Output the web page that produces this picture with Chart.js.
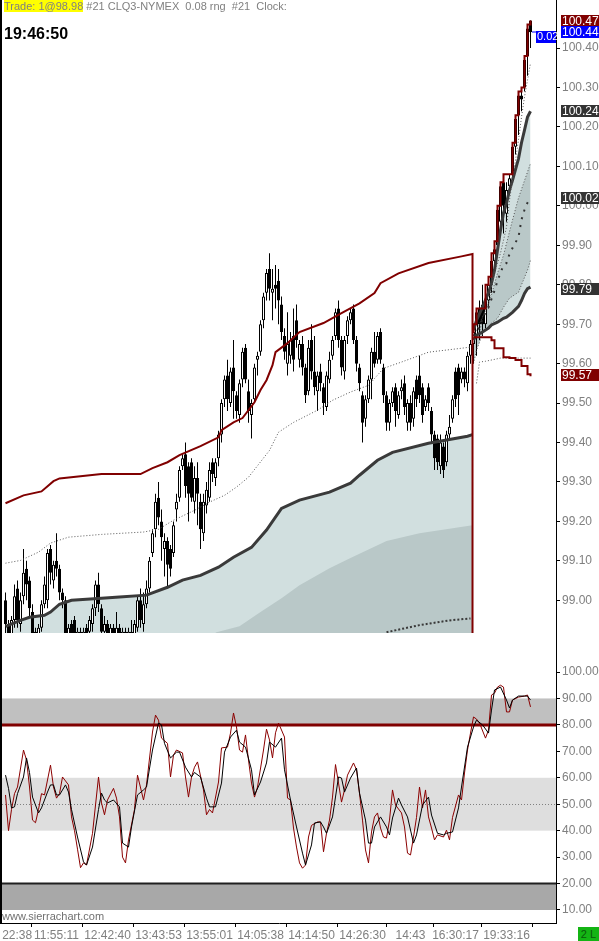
<!DOCTYPE html>
<html>
<head>
<meta charset="utf-8">
<script src="https://cdn.jsdelivr.net/npm/chart.js@4.4.0/dist/chart.umd.min.js"></script>
<style>
html,body{margin:0;padding:0;background:#fff;overflow:hidden;}
#wrap{position:relative;width:599px;height:941px;}
#c{position:absolute;left:0;top:0;}
.hdr{position:absolute;left:4px;top:0;font:11px "Liberation Sans",Arial,sans-serif;color:#808080;white-space:pre;line-height:13px;}
.hdr .trade{background:#ffff00;}
.clock{position:absolute;left:4px;top:25px;font:bold 16px "Liberation Sans",Arial,sans-serif;color:#000;}
.wm{position:absolute;left:2px;top:910px;font:11px "Liberation Sans",Arial,sans-serif;color:#707070;}
.mode{position:absolute;left:578px;top:927px;width:21px;height:14px;background:#14b414;color:#0a5a0a;font:11px "Liberation Sans",Arial,sans-serif;text-align:center;line-height:14px;}
</style>
</head>
<body>
<div id="wrap">
<canvas id="c" width="599" height="941"></canvas>
<div class="hdr"><span class="trade">Trade: 1@98.98</span> #21 CLQ3-NYMEX  0.08 rng  #21  Clock:</div>
<div class="clock">19:46:50</div>
<div class="wm">www.sierrachart.com</div>
<div class="mode">2 L</div>
</div>
<script>
// ---- bars (one per bar index) ----
const barOpen = [
99.00,98.94,98.91,98.95,99.03,98.94,99.01,99.08,99.05,98.97,98.92,98.89,98.93,98.99,99.00,99.13,99.05,99.10,99.08,99.02,
99.00,98.90,98.94,98.95,98.90,98.92,98.90,98.93,98.92,98.94,98.98,99.04,98.98,98.92,98.94,98.91,98.93,98.91,98.93,98.90,
98.92,98.90,98.92,98.91,98.93,99.00,98.94,98.99,99.03,99.12,99.18,99.26,99.20,99.13,99.15,99.13,99.12,99.23,99.26,99.34,
99.37,99.34,99.35,99.25,99.31,99.25,99.17,99.24,99.26,99.35,99.31,99.36,99.42,99.51,99.57,99.50,99.59,99.52,99.47,99.56,
99.64,99.53,99.47,99.51,99.61,99.63,99.71,99.78,99.84,99.78,99.80,99.81,99.75,99.67,99.60,99.62,99.67,99.71,99.61,99.65,
99.59,99.53,99.66,99.58,99.53,99.58,99.54,99.49,99.56,99.62,99.67,99.74,99.66,99.58,99.67,99.71,99.74,99.66,99.59,99.52,
99.46,99.51,99.56,99.63,99.61,99.68,99.59,99.52,99.45,99.50,99.54,99.47,99.53,99.55,99.45,99.50,99.46,99.56,99.57,99.54,
99.49,99.54,99.48,99.42,99.41,99.34,99.39,99.35,99.42,99.46,99.58,99.59,99.56,99.58,99.55,99.62,99.65,99.67,99.74,99.75,
99.70,99.76,99.80,99.86,99.90,99.96,100.06,99.98,100.05,100.08,100.15,100.23,100.28,100.30,100.38,100.47];
const barHigh = [
99.02,98.95,98.96,99.04,99.05,99.02,99.13,99.10,99.06,98.99,98.93,98.94,99.00,99.06,99.13,99.14,99.10,99.17,99.09,99.03,
99.01,98.94,98.95,98.96,98.93,98.93,98.93,98.94,98.96,98.99,99.05,99.07,98.99,98.96,98.95,98.94,98.94,98.97,98.94,98.93,
98.93,98.93,98.95,98.95,99.01,99.03,99.02,99.05,99.11,99.18,99.27,99.30,99.23,99.17,99.16,99.14,99.20,99.27,99.34,99.37,
99.40,99.35,99.36,99.34,99.35,99.27,99.27,99.30,99.35,99.36,99.36,99.43,99.51,99.57,99.61,99.59,99.66,99.53,99.56,99.64,
99.65,99.56,99.51,99.60,99.63,99.71,99.78,99.84,99.88,99.84,99.85,99.84,99.77,99.69,99.73,99.68,99.74,99.75,99.66,99.67,
99.60,99.66,99.70,99.67,99.58,99.60,99.55,99.58,99.63,99.67,99.74,99.76,99.67,99.67,99.72,99.74,99.75,99.67,99.60,99.53,
99.52,99.57,99.64,99.68,99.68,99.69,99.60,99.53,99.51,99.54,99.55,99.53,99.56,99.57,99.51,99.52,99.54,99.57,99.62,99.55,
99.52,99.55,99.49,99.43,99.42,99.42,99.40,99.43,99.47,99.52,99.59,99.60,99.59,99.59,99.63,99.66,99.70,99.74,99.76,99.80,
99.77,99.82,99.88,99.91,100.00,100.06,100.08,100.06,100.08,100.16,100.23,100.29,100.30,100.38,100.46,100.47];
const barLow = [
98.91,98.89,98.89,98.93,98.93,98.92,98.99,99.00,98.96,98.88,98.87,98.88,98.92,98.98,98.98,99.04,99.03,99.06,99.00,98.98,
98.88,98.88,98.89,98.88,98.88,98.88,98.88,98.89,98.90,98.92,98.96,98.97,98.89,98.89,98.88,98.88,98.88,98.89,98.88,98.88,
98.88,98.88,98.88,98.89,98.92,98.93,98.92,98.98,99.02,99.11,99.16,99.19,99.10,99.06,99.03,99.06,99.11,99.20,99.25,99.33,
99.26,99.20,99.25,99.22,99.19,99.13,99.15,99.22,99.25,99.30,99.29,99.34,99.40,99.49,99.48,99.49,99.46,99.46,99.45,99.54,
99.55,99.45,99.41,99.50,99.57,99.62,99.69,99.76,99.76,99.71,99.74,99.70,99.66,99.61,99.57,99.60,99.58,99.64,99.59,99.57,
99.50,99.52,99.56,99.52,99.48,99.53,99.47,99.48,99.55,99.61,99.66,99.64,99.57,99.56,99.65,99.70,99.65,99.58,99.53,99.40,
99.44,99.50,99.51,99.59,99.60,99.60,99.50,99.43,99.43,99.49,99.44,99.46,99.51,99.47,99.43,99.43,99.44,99.49,99.50,99.45,
99.48,99.48,99.40,99.33,99.33,99.32,99.31,99.34,99.41,99.45,99.49,99.47,99.55,99.54,99.53,99.60,99.60,99.62,99.66,99.67,
99.69,99.74,99.78,99.84,99.88,99.94,99.93,99.96,100.03,100.07,100.13,100.18,100.24,100.29,100.33,100.40];
const barClose = [
98.94,98.91,98.95,99.01,98.95,99.00,99.07,99.04,98.98,98.91,98.89,98.93,98.99,99.04,99.12,99.07,99.09,99.08,99.02,99.00,
98.91,98.93,98.91,98.91,98.92,98.90,98.92,98.91,98.95,98.98,99.04,98.99,98.92,98.94,98.91,98.93,98.90,98.93,98.90,98.92,
98.90,98.92,98.90,98.94,99.00,98.95,98.99,99.03,99.10,99.17,99.25,99.21,99.16,99.15,99.09,99.08,99.19,99.25,99.33,99.36,
99.29,99.27,99.26,99.31,99.27,99.18,99.25,99.28,99.33,99.32,99.35,99.42,99.50,99.56,99.51,99.58,99.53,99.48,99.55,99.63,
99.56,99.48,99.50,99.59,99.62,99.70,99.77,99.83,99.79,99.79,99.79,99.76,99.68,99.63,99.65,99.66,99.61,99.66,99.65,99.59,
99.52,99.64,99.58,99.54,99.57,99.55,99.50,99.57,99.61,99.66,99.73,99.66,99.59,99.66,99.71,99.73,99.66,99.60,99.55,99.45,
99.51,99.56,99.63,99.60,99.67,99.61,99.52,99.45,99.50,99.53,99.48,99.52,99.54,99.49,99.50,99.45,99.53,99.51,99.52,99.47,
99.51,99.50,99.42,99.36,99.35,99.40,99.33,99.42,99.44,99.51,99.51,99.52,99.58,99.56,99.62,99.65,99.68,99.73,99.70,99.70,
99.76,99.80,99.86,99.89,99.99,100.05,100.00,100.04,100.07,100.15,100.22,100.28,100.27,100.37,100.45,100.44];

// ---- studies, [bar, value] ----
const vwapLeft = [[0,98.934],[5,98.949],[8,98.957],[13,98.962],[15,98.97],[18,98.99],[22,99.0],[32,99.005],[38,99.008],[47,99.013],[54,99.033],[59,99.051],[65,99.063],[71,99.084],[76,99.109],[82,99.134],[87,99.178],[92,99.233],[98,99.254],[108,99.274],[115,99.297],[118,99.317],[124,99.355],[129,99.375],[141,99.398],[154,99.416],[155.67,99.42]];
const lowBandLeft = [[70,98.918],[78,98.934],[85,98.97],[92,99.005],[98,99.038],[108,99.081],[115,99.107],[127,99.15],[138,99.17],[155.67,99.19]];
const lowBand2Left = [[127,98.919],[138,98.937],[148,98.949],[155,98.954]];
const upBandLeft = [[0,99.094],[5,99.101],[11,99.122],[15,99.145],[21,99.16],[32,99.167],[46,99.173],[51,99.18],[56,99.203],[63,99.228],[68,99.249],[73,99.266],[77,99.287],[81,99.312],[88,99.38],[91,99.426],[96,99.451],[104,99.482],[109,99.507],[115,99.528],[121,99.545],[126,99.588],[132,99.604],[141,99.629],[152,99.639],[155,99.642]];
const redLeft = [[0,99.246],[6,99.266],[12,99.276],[16,99.302],[18,99.309],[32,99.32],[45,99.32],[49,99.335],[54,99.35],[58,99.368],[65,99.391],[71,99.413],[72,99.431],[76,99.451],[79,99.462],[83,99.502],[85,99.533],[87,99.558],[89,99.596],[90,99.629],[94,99.652],[98,99.68],[106,99.703],[112,99.728],[118,99.753],[123,99.779],[125,99.804],[131,99.829],[141,99.855],[152,99.872],[155.67,99.878],[155.67,98.90]];
const vwapUpRight = [[156,99.685],[157,99.71],[159,99.743],[161,99.78],[162,99.804],[163,99.837],[164,99.888],[165,99.938],[166,99.982],[167,100.007],[168,100.04],[169,100.065],[171,100.12],[172,100.16],[173,100.192],[174,100.225],[175,100.24]];
const vwapLowRight = [[156,99.66],[157,99.672],[159,99.68],[161,99.69],[162,99.698],[164,99.705],[166,99.715],[167,99.718],[169,99.73],[171,99.745],[172,99.76],[173,99.778],[174,99.79],[175,99.794]];
const bandUpRight = [[156,99.67],[157,99.685],[159,99.718],[161,99.75],[162,99.775],[164,99.829],[166,99.875],[167,99.905],[169,99.964],[171,100.02],[172,100.042],[174,100.086],[175,100.108]];
const bandLowRight = [[156,99.60],[157,99.634],[158,99.654],[159,99.677],[162,99.703],[164,99.715],[166,99.743],[168,99.766],[171,99.781],[172,99.80],[174,99.837],[175,99.862]];
const midRight = [[156,99.67],[158,99.692],[159,99.715],[161,99.743],[163,99.785],[164,99.81],[166,99.85],[167,99.855],[168,99.878],[169,99.893],[171,99.921],[172,99.965],[173,99.99],[174,100.008],[175,100.02]];
const topBandRight = [[158,99.677],[159,99.718],[161,99.753],[162,99.794],[163,99.829],[165,99.88],[167,99.946],[168,100.015],[169,100.065],[170,100.116],[171,100.167],[172,100.225],[173,100.276],[174,100.319],[175,100.362]];
const floorRight = [[157,99.55],[158,99.604],[160,99.606],[165,99.614],[175,99.614]];
const highRight = [[155.67,99.68],[156,99.70],[157,99.74],[160,99.80],[161,99.82],[162,99.88],[163,99.91],[164,100.00],[165,100.06],[166,100.08],[169,100.16],[170,100.23],[171,100.29],[172,100.30],[173,100.38],[174,100.46],[175,100.47]];
const lowRight = [[156,99.667],[162,99.659],[163,99.639],[166,99.616],[168,99.614],[170,99.609],[172,99.594],[174,99.573],[175,99.568]];

// ---- oscillator, [bar, value] ----
const oscFast = [[0,53.5],[1,40],[2,48],[3,54],[4,56.5],[6,70.5],[7,66.7],[8,56.5],[9,44],[10,43],[11,48],[12,54],[13,53.5],[15,64.8],[16,56.5],[17,52.3],[18,54],[19,60.3],[21,57.3],[22,45.2],[23,40],[24,33],[25,26],[26,27.8],[27,27],[29,39],[31,60.3],[32,50.5],[33,46],[34,51.6],[36,56],[37,52.3],[38,45.2],[39,30],[40,27.8],[41,36.5],[43,48],[44,61],[46,51.6],[47,57.3],[49,77.3],[50,83.7],[51,81.8],[52,75],[54,73],[55,60.3],[56,68.6],[57,70.5],[59,69.4],[60,60.3],[61,52.7],[62,60.3],[63,64],[64,66],[66,55.4],[67,46],[68,48],[69,46.7],[71,58.4],[72,71.3],[74,71.6],[75,76.9],[76,84.5],[77,79.2],[78,70.5],[79,69.7],[80,76.2],[81,66.7],[82,58],[83,52.7],[84,56.5],[86,70.5],[87,78.4],[88,74.3],[89,67.5],[90,77],[91,80.7],[93,75.4],[94,52.3],[95,51.6],[96,41],[97,33.8],[98,27.8],[99,25.8],[100,27],[101,37.6],[102,42],[104,43.3],[105,43.3],[106,32],[107,39],[108,44],[109,52.7],[110,65],[111,58],[112,50.8],[113,55.4],[114,61],[116,65.6],[117,63],[118,54.2],[119,44],[120,32.7],[121,27.8],[122,39.5],[123,45.2],[124,46.7],[125,41],[126,37.6],[127,37.2],[128,44],[129,55.4],[130,49.7],[132,46.7],[133,41.4],[134,31.5],[135,30.8],[136,37.6],[137,45],[138,56.5],[139,48.6],[140,55.4],[141,45.2],[142,41],[143,36.5],[144,38.4],[146,37.6],[147,40.2],[148,36.5],[149,45],[151,53.5],[152,51.6],[153,61.8],[154,70.5],[155,76.9],[156,83],[157,82.2],[158,80.7],[160,75],[161,78],[162,91.3],[163,92],[164,94.3],[165,95],[166,94.3],[167,84.9],[168,84.9],[169,89.4],[171,90.5],[173,90.9],[174,91.3],[175,86.8]];
const oscSlow = [[0,61],[1,56],[2,48.6],[3,49],[4,54],[6,60.3],[7,67.5],[8,62],[9,52.7],[11,46.7],[12,48.6],[14,54.6],[15,57.3],[16,57.3],[17,53.5],[18,53.5],[20,57.3],[21,54.6],[22,48],[24,37.6],[26,28.2],[27,27],[29,33.8],[31,48],[32,54.2],[33,51.6],[34,50.5],[36,51.6],[38,49],[39,35.3],[41,33.8],[42,41.4],[44,53.5],[46,55.4],[47,56.5],[49,70.5],[51,80.7],[52,80],[53,73],[55,67.5],[57,69.7],[58,69.7],[60,64],[62,60.3],[63,62],[65,60.3],[67,52.3],[68,49],[70,49],[72,58],[73,69.7],[75,75.4],[77,78],[78,73.5],[80,71.6],[82,63],[83,53.5],[85,58.4],[87,65.6],[88,73.5],[90,71.6],[92,75],[93,63],[95,51.6],[97,41.4],[99,31.5],[100,27],[102,34.6],[103,42.9],[105,43.3],[106,41.4],[107,39],[109,45.2],[111,60.3],[112,59.9],[113,54.6],[115,59.9],[117,63.7],[118,54.2],[120,44],[121,35.3],[122,35.3],[123,41.4],[125,45.2],[127,41.4],[128,38.4],[129,44.8],[131,52.3],[132,49.7],[134,45.2],[136,35.3],[137,38.4],[139,49.7],[141,52.7],[142,45.9],[144,39],[146,38.4],[147,39],[149,39.5],[151,48.6],[152,56.5],[154,71.6],[156,79.2],[157,81.8],[159,80],[161,76.9],[162,85.6],[163,93.2],[165,94.3],[167,89.4],[168,86.4],[169,89.4],[171,90.9],[173,90.9],[174,90.9],[175,89.4]];
const oscZones = [[80, 90], [40, 60], [10, 20]];

// ---- axes ----
const timeIdx = [0, 17, 34, 51, 68, 85, 102, 119, 135, 150, 167];
const timeLabels = ['22:38', '11:55:11', '12:42:40', '13:43:53', '13:55:01', '14:05:38', '14:14:50', '14:26:30', '14:43', '16:30:17', '19:33:16'];
const priceTicks = [99.00, 99.10, 99.20, 99.30, 99.40, 99.50, 99.60, 99.70, 99.80, 99.90, 100.00, 100.10, 100.20, 100.30, 100.40];
const oscTicks = [10, 20, 30, 40, 50, 60, 70, 80, 90, 100];
const priceTags = [100.47, 100.44, 100.24, 100.02, 99.79, 99.57];
const lastChange = '0.02';

const priceMin = 98.917, priceMax = 100.522;
const oscMin = 5.08, oscMax = 114.75;
const xMin = -7 / 6, xMax = xMin + 554 / 3;

const tagColors = ['#800000', '#0000ff', '#333333', '#333333', '#333333', '#800000'];
const FONT = 'Liberation Sans';

const pts = arr => arr.map(p => ({x: p[0], y: p[1]}));

function studyLine(data, color, width, extra) {
  return Object.assign({
    type: 'line', data: pts(data), yAxisID: 'y', borderColor: color, borderWidth: width,
    pointRadius: 0, tension: 0, fill: false, order: 3
  }, extra || {});
}

// no extra room for the outer labels: the plot runs edge to edge
function noPad(s) { s.paddingLeft = 0; s.paddingRight = 0; s.paddingTop = 0; s.paddingBottom = 0; }

const bodyColors = barClose.map((c, i) => c >= barOpen[i] ? '#ffffff' : '#000000');

const decor = {
  id: 'decor',
  beforeDatasetsDraw(chart) {
    const {ctx, chartArea} = chart;
    const o = chart.scales.y2;
    const L = chartArea.left, W = chartArea.right - chartArea.left;
    const zoneCols = ['#c0c0c0', '#dedede', '#a8a8a8'];
    ctx.save();
    oscZones.forEach((z, k) => {
      const top = o.getPixelForValue(z[1]), bot = o.getPixelForValue(z[0]);
      ctx.fillStyle = zoneCols[k];
      ctx.fillRect(L, top, W, bot - top);
    });
    ctx.strokeStyle = '#808080';
    ctx.lineWidth = 1;
    ctx.setLineDash([1, 2]);
    const y50 = Math.round(o.getPixelForValue(50)) + 0.5;
    ctx.beginPath(); ctx.moveTo(L, y50); ctx.lineTo(L + W, y50); ctx.stroke();
    ctx.setLineDash([]);
    ctx.strokeStyle = '#800000';
    ctx.lineWidth = 3;
    const y80 = o.getPixelForValue(80);
    ctx.beginPath(); ctx.moveTo(L, y80); ctx.lineTo(L + W, y80); ctx.stroke();
    ctx.strokeStyle = '#202020';
    ctx.lineWidth = 2;
    const y20 = o.getPixelForValue(20);
    ctx.beginPath(); ctx.moveTo(L, y20); ctx.lineTo(L + W, y20); ctx.stroke();
    ctx.restore();
  },
  afterDraw(chart) {
    const {ctx, chartArea} = chart;
    const p = chart.scales.y, x = chart.scales.x;
    ctx.save();
    // left frame
    ctx.fillStyle = '#000';
    ctx.fillRect(0, 0, 2, chartArea.bottom + 1);
    // last price marker inside the chart
    const yl = Math.round(p.getPixelForValue(priceTags[1]));
    const xl = x.getPixelForValue(barClose.length - 1) + 1.5;
    ctx.fillStyle = '#0000ff';
    ctx.fillRect(xl, yl - 0.5, chartArea.right - 20 - xl, 1);
    ctx.fillRect(chartArea.right - 20, yl - 1, 20, 12);
    ctx.fillStyle = '#fff';
    ctx.font = '11px ' + FONT;
    ctx.textBaseline = 'middle';
    ctx.textAlign = 'left';
    ctx.fillText(lastChange, chartArea.right - 19, yl + 5);
    // value tags on the price scale
    ctx.font = '12px ' + FONT;
    priceTags.forEach((v, k) => {
      const yc = Math.round(p.getPixelForValue(v));
      ctx.fillStyle = tagColors[k];
      ctx.fillRect(chartArea.right + 5, yc - 6, 599 - chartArea.right - 5, 12);
      ctx.fillStyle = '#fff';
      ctx.fillText(v.toFixed(2), chartArea.right + 6, yc + 0.5);
    });
    ctx.restore();
  }
};

Chart.defaults.font.family = FONT;

new Chart(document.getElementById('c'), {
  type: 'bar',
  data: {
    datasets: [
      {type: 'bar', data: barLow.map((l, i) => ({x: i, y: [l, barHigh[i]]})), yAxisID: 'y',
       backgroundColor: '#000', borderWidth: 0, barThickness: 1, grouped: false, inflateAmount: 0, order: 30},
      {type: 'bar', data: barOpen.map((o, i) => ({x: i, y: [o, barClose[i]]})), yAxisID: 'y',
       backgroundColor: bodyColors, borderColor: '#000', borderWidth: 1, borderSkipped: false,
       barThickness: 3, grouped: false, inflateAmount: 0, order: 20},
      studyLine(vwapLeft, '#3a3a3a', 3, {fill: 'start', backgroundColor: '#d1dfdf', order: 9}),
      studyLine(lowBandLeft, 'rgba(0,0,0,0)', 1, {fill: 'start', backgroundColor: '#b9c8c8', order: 8}),
      studyLine(lowBand2Left, '#3a3a3a', 2, {borderDash: [2, 2]}),
      studyLine(upBandLeft, '#555555', 1, {borderDash: [1, 2]}),
      studyLine(redLeft, '#800000', 2, {order: 2}),
      studyLine(vwapLowRight, '#3a3a3a', 3),
      studyLine(vwapUpRight, '#3a3a3a', 3, {fill: {target: 7, above: '#d1dfdf', below: '#d1dfdf'}, backgroundColor: '#d1dfdf', order: 7}),
      studyLine(bandLowRight, '#555555', 1, {borderDash: [1, 2]}),
      studyLine(bandUpRight, '#555555', 1, {borderDash: [1, 2], fill: {target: 9, above: '#b9c8c8', below: '#b9c8c8'}, backgroundColor: '#b9c8c8', order: 6}),
      studyLine(midRight, '#333333', 2, {borderDash: [2, 6]}),
      studyLine(topBandRight, '#555555', 1, {borderDash: [1, 2]}),
      studyLine(floorRight, '#555555', 1, {borderDash: [1, 2]}),
      studyLine(highRight, '#800000', 2, {stepped: true, order: 2}),
      studyLine(lowRight, '#800000', 2, {stepped: true, order: 2}),
      {type: 'line', data: pts(oscFast), yAxisID: 'y2', borderColor: '#8b0000', borderWidth: 1, pointRadius: 0, tension: 0, fill: false, order: 2},
      {type: 'line', data: pts(oscSlow), yAxisID: 'y2', borderColor: '#000000', borderWidth: 1, pointRadius: 0, tension: 0, fill: false, order: 1}
    ]
  },
  options: {
    responsive: false,
    devicePixelRatio: 1,
    animation: false,
    events: [],
    layout: {padding: {left: 2, right: 0, top: 0, bottom: 0}},
    plugins: {legend: {display: false}, tooltip: {enabled: false}, filler: {drawTime: 'beforeDatasetsDraw'}},
    scales: {
      x: {
        type: 'linear', min: xMin, max: xMax, offset: false,
        grid: {drawOnChartArea: false, drawTicks: true, tickLength: 4, color: '#000'},
        border: {display: true, color: '#000', width: 1},
        ticks: {autoSkip: false, maxRotation: 0, color: '#808080', font: {size: 12}, padding: 1,
                callback: (v, i) => i === 0 ? '       ' + timeLabels[i] : timeLabels[i]},
        afterBuildTicks: s => { s.ticks = timeIdx.map(v => ({value: v})); },
        afterFit: s => { s.height = 18; noPad(s); }
      },
      y: {
        type: 'linear', position: 'right', stack: 'panes', stackWeight: 633, min: priceMin, max: priceMax,
        grid: {drawOnChartArea: false, tickLength: 4, color: '#000'},
        border: {display: true, color: '#000'},
        ticks: {autoSkip: false, color: '#808080', font: {size: 12}, padding: 2, callback: v => v.toFixed(2)},
        afterBuildTicks: s => { s.ticks = priceTicks.map(v => ({value: v})); },
        afterFit: s => { s.width = 43; noPad(s); }
      },
      y2: {
        type: 'linear', position: 'right', stack: 'panes', stackWeight: 290, min: oscMin, max: oscMax,
        grid: {drawOnChartArea: false, tickLength: 4, color: '#000'},
        border: {display: true, color: '#000'},
        ticks: {autoSkip: false, color: '#808080', font: {size: 12}, padding: 2, callback: v => v.toFixed(2)},
        afterBuildTicks: s => { s.ticks = oscTicks.map(v => ({value: v})); },
        afterFit: s => { s.width = 43; noPad(s); }
      }
    }
  },
  plugins: [decor]
});
</script>
</body>
</html>
